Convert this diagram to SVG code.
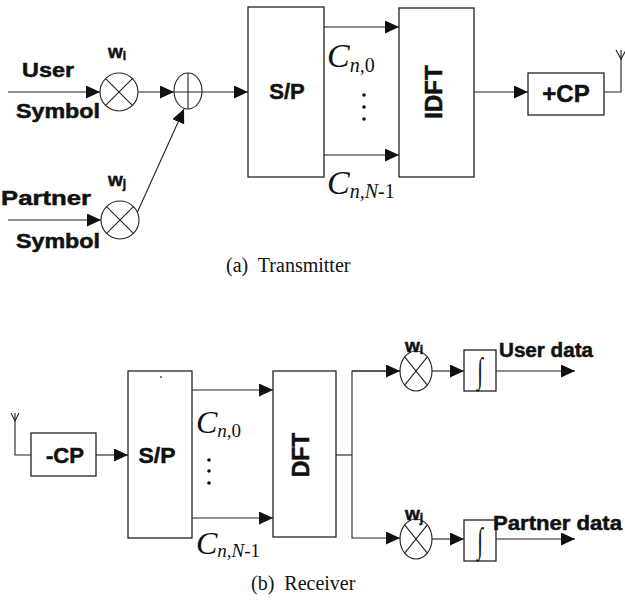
<svg xmlns="http://www.w3.org/2000/svg" width="625" height="603" viewBox="0 0 625 603">
<style>
.bx{fill:#fff;stroke:#222;stroke-width:1.3}
.ln{fill:none;stroke:#222;stroke-width:1.1}
.cr{fill:#fff;stroke:#222;stroke-width:1.1}
.lb{font-family:"Liberation Sans",Arial,sans-serif;font-weight:bold;fill:#111;stroke:#111;stroke-width:0.5}
.mt{font-family:"Liberation Serif","Times New Roman",serif;fill:#111}
.it{font-style:italic}
.up{font-style:normal}
</style>
<defs>
<marker id="ah" markerUnits="userSpaceOnUse" markerWidth="15" markerHeight="13" refX="14" refY="6.5" orient="auto">
<path d="M0,0 L14,6.5 L0,13 z" fill="#111"/>
</marker>
</defs>
<rect width="625" height="603" fill="#fff"/>

<g id="connectors">
<line class="ln" x1="8" y1="92" x2="100" y2="92" marker-end="url(#ah)"/>
<line class="ln" x1="8" y1="220" x2="101" y2="220" marker-end="url(#ah)"/>
<line class="ln" x1="138" y1="92" x2="174" y2="92" marker-end="url(#ah)"/>
<line class="ln" x1="137" y1="213" x2="184" y2="109" marker-end="url(#ah)"/>
<line class="ln" x1="202" y1="92" x2="248" y2="92" marker-end="url(#ah)"/>
<line class="ln" x1="324" y1="27" x2="399" y2="27" marker-end="url(#ah)"/>
<line class="ln" x1="324" y1="155" x2="399" y2="155" marker-end="url(#ah)"/>
<line class="ln" x1="474" y1="92" x2="528" y2="92" marker-end="url(#ah)"/>
<polyline class="ln" points="604,92 621,92 621,50"/>
<polyline class="ln" points="616,50 621,59 626,50"/>
<polyline class="ln" points="15,413 15,455 31,455"/>
<polyline class="ln" points="11,413 15,421 19,413"/>
<line class="ln" x1="96" y1="455" x2="128" y2="455" marker-end="url(#ah)"/>
<line class="ln" x1="192" y1="390" x2="273" y2="390" marker-end="url(#ah)"/>
<line class="ln" x1="192" y1="518" x2="273" y2="518" marker-end="url(#ah)"/>
<line class="ln" x1="336" y1="455" x2="352" y2="455"/>
<polyline class="ln" points="400,371 352,371 352,538 400,538" marker-end="url(#ah)"/>
<line class="ln" x1="352" y1="371" x2="400" y2="371" marker-end="url(#ah)"/>
<line class="ln" x1="432" y1="371" x2="464" y2="371" marker-end="url(#ah)"/>
<line class="ln" x1="432" y1="539" x2="464" y2="539" marker-end="url(#ah)"/>
<line class="ln" x1="496" y1="371" x2="575" y2="371" marker-end="url(#ah)"/>
<line class="ln" x1="496" y1="539" x2="575" y2="539" marker-end="url(#ah)"/>
</g>

<g id="user-symbol">
<text class="lb" x="22" y="77" font-size="20" textLength="52" lengthAdjust="spacingAndGlyphs">User</text>
<text class="lb" x="16" y="118" font-size="20" textLength="84" lengthAdjust="spacingAndGlyphs">Symbol</text>
</g>
<g id="partner-symbol">
<text class="lb" x="1" y="205" font-size="20" textLength="90" lengthAdjust="spacingAndGlyphs">Partner</text>
<text class="lb" x="16" y="248" font-size="20" textLength="84" lengthAdjust="spacingAndGlyphs">Symbol</text>
</g>
<g id="tx-mult-i">
<circle class="cr" cx="119" cy="92" r="19"/>
<path class="ln" d="M105.6,78.6 L132.4,105.4 M132.4,78.6 L105.6,105.4"/>
<text class="lb" x="108" y="58" font-size="19">w<tspan font-size="12" dy="2">i</tspan></text>
</g>
<g id="tx-mult-j">
<circle class="cr" cx="120" cy="220" r="19"/>
<path class="ln" d="M106.6,206.6 L133.4,233.4 M133.4,206.6 L106.6,233.4"/>
<text class="lb" x="108" y="186" font-size="19">w<tspan font-size="12" dy="2">j</tspan></text>
</g>
<g id="tx-adder">
<ellipse class="cr" cx="188" cy="91" rx="14" ry="18"/>
<path class="ln" d="M188,73 L188,109 M174,92 L202,92"/>
</g>
<g id="tx-sp">
<rect class="bx" x="248" y="7" width="76" height="170"/>
<text class="lb" x="287" y="99" font-size="22" text-anchor="middle">S/P</text>
</g>
<g id="tx-labels">
<text class="mt it" x="327" y="67" font-size="34">C<tspan font-size="20" dy="5">n,</tspan><tspan class="up" font-size="20">0</tspan></text>
<circle cx="364" cy="95" r="1.8" fill="#111"/>
<circle cx="364" cy="107" r="1.8" fill="#111"/>
<circle cx="364" cy="119" r="1.8" fill="#111"/>
<text class="mt it" x="327" y="194" font-size="34">C<tspan font-size="20" dy="4">n,N</tspan><tspan class="up" font-size="20">-1</tspan></text>
</g>
<g id="tx-idft">
<rect class="bx" x="399" y="8" width="75" height="169"/>
<text class="lb" font-size="24" text-anchor="middle" transform="translate(442,92) rotate(-90)">IDFT</text>
</g>
<g id="tx-cp">
<rect class="bx" x="528" y="73" width="76" height="42"/>
<text class="lb" x="566" y="102" font-size="24" text-anchor="middle">+CP</text>
</g>
<text class="mt" x="226" y="272" font-size="20" xml:space="preserve">(a)  Transmitter</text>

<g id="rx-cp">
<rect class="bx" x="31" y="433" width="65" height="43"/>
<text class="lb" x="65" y="463" font-size="22" text-anchor="middle" textLength="38" lengthAdjust="spacingAndGlyphs">-CP</text>
</g>
<g id="rx-sp">
<rect class="bx" x="128" y="371" width="64" height="167"/>
<circle cx="161" cy="377" r="0.9" fill="#333"/>
<text class="lb" x="157" y="463" font-size="22" text-anchor="middle" textLength="37" lengthAdjust="spacingAndGlyphs">S/P</text>
</g>
<g id="rx-labels">
<text class="mt it" x="196" y="433" font-size="32">C<tspan font-size="19" dy="4">n,</tspan><tspan class="up" font-size="19">0</tspan></text>
<circle cx="209" cy="460" r="1.8" fill="#111"/>
<circle cx="209" cy="471" r="1.8" fill="#111"/>
<circle cx="209" cy="483" r="1.8" fill="#111"/>
<text class="mt it" x="196" y="554" font-size="32">C<tspan font-size="19" dy="3">n,N</tspan><tspan class="up" font-size="19">-1</tspan></text>
</g>
<g id="rx-dft">
<rect class="bx" x="273" y="371" width="63" height="166"/>
<text class="lb" font-size="23" text-anchor="middle" transform="translate(309,455) rotate(-90)">DFT</text>
</g>
<g id="rx-mult-i">
<ellipse class="cr" cx="416" cy="371" rx="16" ry="20"/>
<path class="ln" d="M404.7,356.9 L427.3,385.1 M427.3,356.9 L404.7,385.1"/>
<text class="lb" x="405" y="352" font-size="19">w<tspan font-size="12" dy="2">i</tspan></text>
</g>
<g id="rx-mult-j">
<ellipse class="cr" cx="416" cy="539" rx="16" ry="20"/>
<path class="ln" d="M404.7,524.9 L427.3,553.1 M427.3,524.9 L404.7,553.1"/>
<text class="lb" x="405" y="520" font-size="19">w<tspan font-size="12" dy="2">j</tspan></text>
</g>
<g id="rx-int-user">
<rect class="bx" x="464" y="350" width="32" height="41"/>
<text class="mt" font-size="26" text-anchor="middle" transform="translate(480,382) scale(0.8,1.35)">∫</text>
<text class="lb" x="499" y="357" font-size="20" textLength="94" lengthAdjust="spacingAndGlyphs">User data</text>
</g>
<g id="rx-int-partner">
<rect class="bx" x="464" y="520" width="32" height="41"/>
<text class="mt" font-size="26" text-anchor="middle" transform="translate(480,552) scale(0.8,1.35)">∫</text>
<text class="lb" x="493" y="530" font-size="20" textLength="129" lengthAdjust="spacingAndGlyphs">Partner data</text>
</g>
<text class="mt" x="251" y="590" font-size="20" xml:space="preserve">(b)  Receiver</text>
</svg>
